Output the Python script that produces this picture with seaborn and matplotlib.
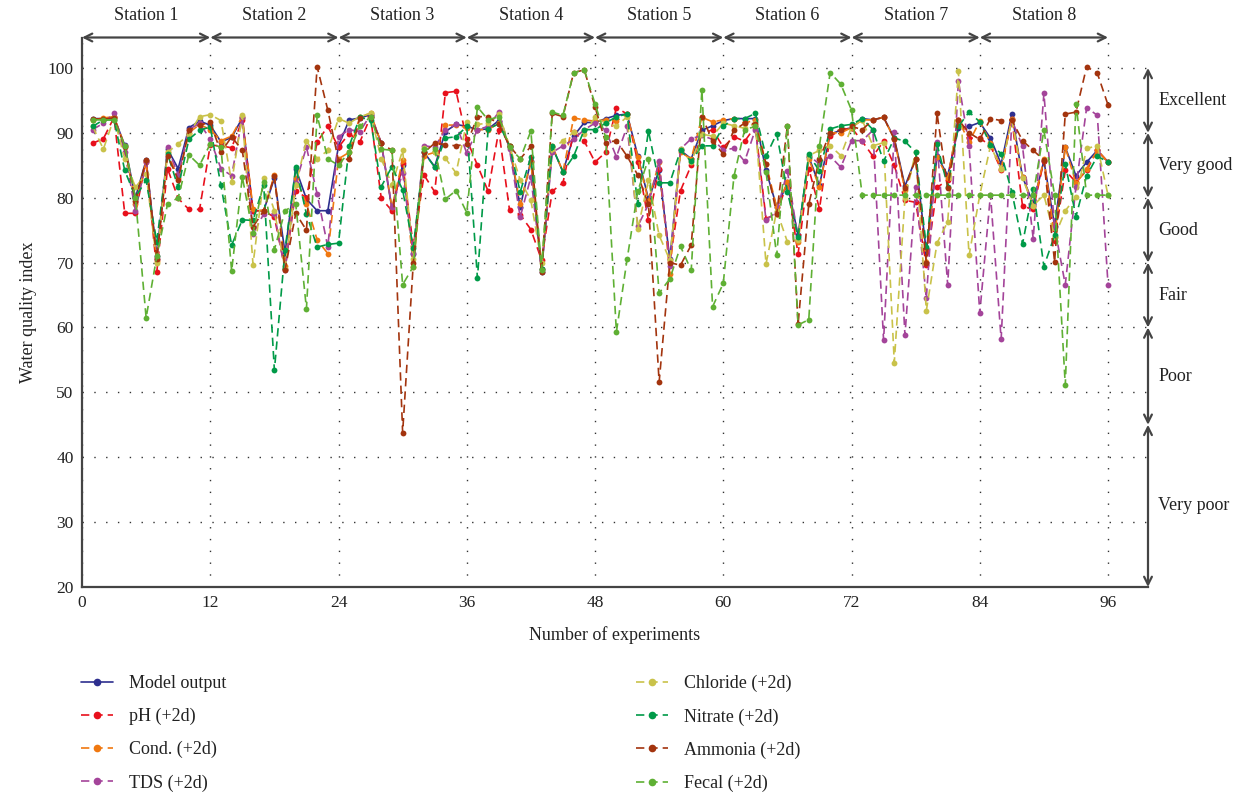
import matplotlib
matplotlib.use("Agg")
import matplotlib.pyplot as plt
import matplotlib.transforms as mtransforms
from matplotlib.lines import Line2D
import seaborn as sns
import numpy as np
import pandas as pd

# ---------------- data ----------------
experiments = list(range(1, 97))

model_output = [92.2, 92.2, 92.4, 88.1, 80.0, 85.8, 71.0, 87.5, 84.5, 90.8, 91.8, 91.2,
                88.6, 89.3, 92.3, 78.0, 78.0, 83.0, 71.5, 84.5, 79.8, 78.0, 78.0, 88.0,
                92.0, 92.3, 92.8, 88.4, 78.3, 85.0, 71.3, 87.0, 84.8, 90.2, 91.3, 91.0,
                90.5, 90.6, 91.9, 87.8, 78.6, 85.7, 68.6, 87.8, 84.0, 89.5, 91.6, 91.6,
                92.2, 92.7, 92.9, 86.5, 79.8, 84.2, 70.5, 87.3, 86.0, 90.4, 91.1, 91.9,
                92.2, 92.2, 92.2, 84.2, 78.6, 82.2, 74.2, 86.3, 81.9, 89.8, 90.4, 90.8,
                92.2, 92.0, 92.4, 89.2, 81.8, 86.0, 71.6, 86.5, 83.4, 90.8, 91.0, 91.6,
                89.2, 85.2, 92.9, 83.2, 79.1, 85.7, 75.7, 87.8, 83.4, 85.5, 87.3, 85.5]

ph = [88.4, 89.1, 92.4, 77.6, 77.6, 85.7, 68.6, 84.5, 79.9, 78.2, 78.2, 88.1,
      88.0, 87.7, 92.0, 78.0, 78.0, 77.0, 69.0, 81.1, 80.0, 88.6, 91.0, 87.8,
      89.9, 88.6, 92.5, 79.9, 78.0, 85.3, 72.5, 83.5, 80.9, 96.2, 96.4, 89.0,
      85.0, 81.0, 90.4, 78.1, 77.4, 75.1, 70.4, 81.0, 82.3, 90.1, 88.7, 85.5,
      87.0, 93.9, 92.9, 85.5, 76.5, 84.5, 70.1, 81.1, 85.0, 89.8, 90.5, 87.8,
      89.4, 88.7, 91.0, 76.8, 77.5, 82.4, 71.3, 84.5, 78.3, 89.5, 90.4, 90.8,
      88.7, 86.4, 88.7, 85.0, 79.6, 79.3, 69.6, 81.6, 82.7, 92.0, 89.2, 89.2,
      88.0, 84.3, 92.2, 78.7, 78.2, 85.7, 73.4, 84.2, 82.4, 84.2, 87.3, 85.5]

cond = [92.0, 92.3, 92.5, 88.0, 79.0, 85.5, 70.3, 87.0, 83.0, 90.0, 91.3, 90.5,
        88.8, 89.5, 92.5, 78.3, 78.0, 83.5, 69.5, 83.0, 79.1, 73.5, 71.4, 86.0,
        87.0, 92.5, 93.0, 88.4, 78.5, 85.8, 69.4, 86.5, 87.0, 91.2, 91.2, 90.8,
        90.5, 90.5, 91.5, 88.0, 79.0, 85.5, 69.0, 88.0, 84.0, 92.3, 92.0, 91.8,
        92.0, 91.8, 92.9, 86.3, 79.5, 85.5, 68.2, 87.0, 86.0, 92.4, 91.7, 92.0,
        92.2, 91.5, 92.0, 85.2, 78.5, 82.4, 73.2, 86.0, 81.6, 90.0, 90.0, 90.8,
        92.0, 92.0, 92.4, 89.0, 81.2, 86.0, 70.1, 86.3, 83.0, 92.0, 88.6, 91.8,
        88.5, 84.5, 92.2, 83.2, 78.8, 86.0, 74.0, 87.8, 82.2, 84.5, 87.3, 85.5]

tds = [90.5, 91.5, 93.0, 87.0, 78.0, 85.5, 70.5, 87.8, 83.5, 90.5, 91.5, 89.0,
       84.5, 83.4, 92.4, 74.4, 77.5, 77.5, 68.8, 82.2, 87.8, 80.6, 72.4, 89.4,
       90.5, 90.2, 92.8, 88.5, 78.5, 83.8, 71.5, 88.0, 87.8, 90.5, 91.3, 86.9,
       90.5, 91.0, 93.2, 87.5, 77.0, 83.2, 69.0, 87.0, 88.0, 89.0, 90.5, 91.5,
       90.4, 86.3, 91.0, 75.6, 79.0, 85.7, 69.5, 87.5, 89.1, 89.6, 89.0, 87.4,
       87.6, 85.6, 90.5, 76.6, 77.8, 84.1, 73.7, 86.5, 85.2, 86.4, 84.7, 88.8,
       88.8, 90.4, 58.0, 90.1, 58.8, 81.6, 64.5, 88.6, 66.5, 98.0, 88.0, 62.2,
       80.5, 58.2, 92.0, 87.9, 73.7, 96.1, 75.5, 66.6, 81.7, 93.9, 92.7, 66.6]

chloride = [91.0, 87.5, 92.3, 86.0, 81.6, 83.7, 70.0, 87.0, 88.3, 89.8, 92.5, 92.8,
            91.9, 82.4, 92.7, 69.7, 83.0, 78.0, 69.0, 82.0, 88.8, 86.0, 87.3, 92.2,
            91.5, 92.5, 93.0, 86.0, 82.0, 87.3, 70.6, 87.6, 87.0, 86.1, 83.8, 91.7,
            91.3, 91.5, 92.9, 88.0, 82.7, 79.6, 70.0, 87.5, 88.8, 90.1, 89.9, 92.4,
            91.5, 91.0, 92.5, 75.2, 82.7, 74.2, 70.4, 87.5, 85.5, 89.8, 89.5, 91.5,
            91.1, 90.7, 91.5, 69.8, 78.0, 73.2, 73.5, 86.5, 87.3, 88.0, 86.5, 90.9,
            92.0, 88.0, 88.5, 54.6, 80.0, 87.0, 62.6, 73.0, 76.3, 99.5, 71.1, 80.4,
            88.0, 84.5, 92.0, 83.0, 78.8, 80.4, 74.0, 78.0, 80.1, 87.6, 88.0, 80.4]

nitrate = [91.0, 92.0, 92.0, 84.2, 80.1, 82.7, 73.2, 86.8, 81.6, 89.0, 90.4, 90.9,
           81.9, 72.7, 76.6, 76.5, 82.0, 53.4, 72.0, 84.7, 77.5, 72.4, 72.8, 73.0,
           88.0, 92.4, 92.0, 81.7, 84.8, 81.2, 72.3, 87.0, 84.7, 89.2, 89.4, 91.0,
           67.6, 90.6, 91.4, 88.0, 80.9, 86.3, 69.0, 87.9, 84.0, 86.4, 90.5, 90.5,
           91.5, 92.5, 92.9, 79.0, 90.3, 82.3, 82.3, 87.3, 85.6, 88.0, 88.0, 91.0,
           92.2, 92.2, 93.0, 86.4, 89.9, 80.9, 74.0, 86.7, 84.1, 90.6, 91.1, 91.3,
           92.2, 90.5, 85.6, 89.2, 88.7, 87.0, 72.4, 88.3, 81.7, 91.0, 93.2, 91.7,
           88.2, 86.8, 80.9, 72.9, 81.4, 69.4, 74.2, 85.2, 77.1, 83.4, 86.4, 85.5]

ammonia = [92.2, 92.1, 92.3, 87.8, 79.5, 85.8, 70.5, 86.5, 82.8, 90.4, 91.2, 91.6,
           87.0, 89.4, 87.3, 75.5, 78.0, 83.3, 68.9, 77.6, 75.0, 100.2, 93.5, 85.7,
           86.0, 92.3, 92.5, 88.4, 87.3, 43.8, 70.0, 87.0, 88.4, 88.2, 88.0, 88.3,
           92.5, 92.5, 91.3, 88.0, 86.0, 87.9, 68.5, 93.0, 92.5, 99.3, 99.7, 94.0,
           88.5, 88.8, 86.4, 83.5, 79.0, 51.6, 70.0, 69.6, 72.7, 92.5, 88.8, 86.7,
           90.4, 91.5, 91.4, 85.2, 77.5, 91.1, 60.5, 79.0, 86.0, 90.0, 90.5, 91.0,
           90.5, 92.0, 92.4, 89.0, 81.5, 86.0, 70.0, 93.0, 81.5, 92.0, 90.0, 89.0,
           92.2, 91.9, 92.0, 88.8, 87.3, 85.8, 70.1, 92.9, 93.2, 100.2, 99.2, 94.3]

fecal = [92.0, 92.0, 92.0, 88.0, 80.0, 61.5, 71.0, 79.0, 80.0, 86.6, 85.0, 88.3,
         87.8, 68.7, 83.2, 74.5, 82.5, 72.0, 78.0, 79.0, 62.9, 92.7, 86.0, 85.0,
         87.1, 91.0, 92.5, 87.5, 87.3, 66.6, 69.4, 87.5, 87.5, 79.8, 81.1, 77.7,
         94.0, 92.0, 92.5, 87.8, 86.0, 90.3, 68.8, 93.2, 92.7, 99.3, 99.7, 94.5,
         89.3, 59.3, 70.5, 81.0, 86.0, 65.3, 67.5, 72.5, 68.8, 96.6, 63.2, 66.8,
         83.3, 90.5, 91.0, 84.0, 71.1, 91.1, 60.4, 61.2, 88.0, 99.3, 97.5, 93.5,
         80.4, 80.4, 80.4, 80.4, 80.4, 80.4, 80.4, 80.4, 80.4, 80.4, 80.4, 80.4,
         80.4, 80.4, 80.4, 80.4, 80.4, 90.4, 80.4, 51.1, 94.5, 80.4, 80.4, 80.4]

series_names = ["Model output", "pH (+2d)", "Cond. (+2d)", "TDS (+2d)",
                "Chloride (+2d)", "Nitrate (+2d)", "Ammonia (+2d)", "Fecal (+2d)"]
series_values = [model_output, ph, cond, tds, chloride, nitrate, ammonia, fecal]
series_colors = ["#2e2f8f", "#e8101c", "#f07810", "#a4449a",
                 "#c9c24a", "#009a48", "#a3340e", "#5fb034"]

station_labels = [f"Station {k}" for k in range(1, 9)]
quality_bands = [(100, 90, "Excellent"), (90, 80, "Very good"), (80, 70, "Good"),
                 (70, 60, "Fair"), (60, 45, "Poor"), (45, 20, "Very poor")]
x_ticks = list(range(0, 97, 12))
y_ticks = list(range(20, 101, 10))

# ---------------- style ----------------
sns.set_theme(style="white")
plt.rcParams["font.family"] = ["Liberation Serif", "DejaVu Serif"]
plt.rcParams["mathtext.fontset"] = "dejavuserif"

W, H = 1253, 795
fig = plt.figure(figsize=(W / 100, H / 100), dpi=100)
ax_left, ax_right, ax_bottom, ax_top = 82, 1148, 587, 37.5
ax = fig.add_axes([ax_left / W, 1 - ax_bottom / H, (ax_right - ax_left) / W, (ax_bottom - ax_top) / H])

X_MAX = 99.74
Y_MAX = 104.7
ax.set_xlim(0, X_MAX)
ax.set_ylim(20, Y_MAX)

dash = (0, (5.0, 3.0))
handles = []
for name, vals, col in zip(series_names, series_values, series_colors):
    ls = "-" if name == "Model output" else dash
    sns.lineplot(x=experiments, y=vals, ax=ax, color=col, linewidth=1.2,
                 linestyle=ls, marker="o", markersize=4.2, markeredgewidth=0,
                 legend=False)
    handles.append(Line2D([0], [0], color=col, linewidth=1.2, linestyle=ls,
                          marker="o", markersize=5.5, markeredgewidth=0))

# grid
ax.set_xticks(x_ticks)
ax.set_yticks(y_ticks)
ax.grid(True, color="#333333", linestyle=(0, (1, 7.5)), linewidth=1.0)
ax.tick_params(axis="both", direction="in", length=5, width=1, color="#333333",
               labelsize=12.5, labelcolor="#222222", pad=6)
for s in ["top", "right"]:
    ax.spines[s].set_visible(False)
for s in ["left", "bottom"]:
    ax.spines[s].set_color("#444444")
    ax.spines[s].set_linewidth(1.6)

ax.set_xlabel("Number of experiments", fontsize=13, color="#222222", labelpad=11)
ax.set_ylabel("Water quality index", fontsize=13, color="#222222", labelpad=8)

# station arrows on top
arrow_kw = dict(arrowstyle="<->", color="#444444", lw=1.6, shrinkA=0, shrinkB=0,
                mutation_scale=14)
trans_top = mtransforms.blended_transform_factory(ax.transData, fig.transFigure)
for k, lab in enumerate(station_labels):
    ax.annotate("", xy=(12 * k, Y_MAX), xytext=(12 * (k + 1), Y_MAX),
                arrowprops=arrow_kw, annotation_clip=False)
    ax.text(12 * k + 6, 1 - 15 / H, lab, transform=trans_top, ha="center", va="center",
            fontsize=13, color="#222222")

# quality arrows on the right
for top, bot, lab in quality_bands:
    ax.annotate("", xy=(X_MAX, top), xytext=(X_MAX, bot),
                arrowprops=arrow_kw, annotation_clip=False)
    ax.text(X_MAX + 0.95, (top + bot) / 2, lab, ha="left", va="center",
            fontsize=13, color="#222222", clip_on=False)

# legend in two blocks
leg_kw = dict(loc="upper left", frameon=False, fontsize=13, handlelength=1.75,
              labelspacing=0.88, handletextpad=0.9, borderaxespad=0, borderpad=0)
leg1 = fig.legend(handles[:4], series_names[:4],
                  bbox_to_anchor=(81 / W, 1 - 675 / H), **leg_kw)
leg2 = fig.legend(handles[4:], series_names[4:],
                  bbox_to_anchor=(636 / W, 1 - 675 / H), **leg_kw)
for lg in (leg1, leg2):
    for t in lg.get_texts():
        t.set_color("#222222")

fig.savefig("out.png", dpi=100)
